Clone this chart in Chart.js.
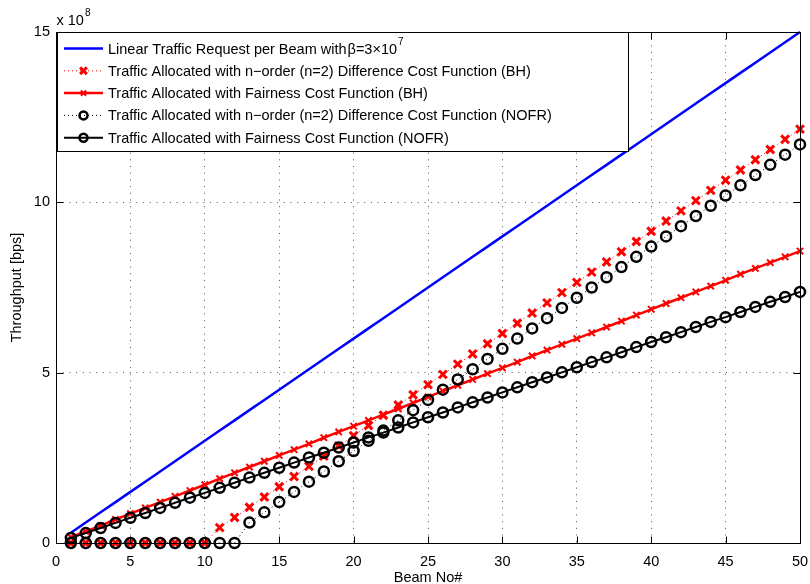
<!DOCTYPE html>
<html>
<head>
<meta charset="utf-8">
<title>Throughput per beam</title>
<script src="https://cdn.jsdelivr.net/npm/chart.js@4.4.1/dist/chart.umd.min.js"></script>
<style>
  html, body { margin: 0; padding: 0; background: #fff; }
  #wrap { width: 810px; height: 584px; }
</style>
</head>
<body>
<div id="wrap"><canvas id="chart" width="810" height="584"></canvas></div>
<script>
// beam index and throughput values, in units of 1e8 bps
const beams = [1,2,3,4,5,6,7,8,9,10,11,12,13,14,15,16,17,18,19,20,21,22,23,24,25,
  26,27,28,29,30,31,32,33,34,35,36,37,38,39,40,41,42,43,44,45,46,47,48,49,50];

const requestLinear = [0.3,0.6,0.9,1.2,1.5,1.8,2.1,2.4,2.7,3.0,3.3,3.6,3.9,4.2,4.5,
  4.8,5.1,5.4,5.7,6.0,6.3,6.6,6.9,7.2,7.5,7.8,8.1,8.4,8.7,9.0,9.3,9.6,9.9,10.2,10.5,
  10.8,11.1,11.4,11.7,12.0,12.3,12.6,12.9,13.2,13.5,13.8,14.1,14.4,14.7,15.0];

const allocDiffBH = [0,0,0,0,0,0,0,0,0,0,0.45,0.75,1.05,1.35,1.65,1.95,2.25,2.55,2.85,
  3.15,3.45,3.75,4.05,4.35,4.65,4.95,5.25,5.55,5.85,6.15,6.45,6.75,7.05,7.35,7.65,7.95,
  8.25,8.55,8.85,9.15,9.45,9.75,10.05,10.35,10.65,10.95,11.25,11.55,11.85,12.15];

const allocFairBH = [0.17,0.34,0.51,0.69,0.86,1.03,1.20,1.37,1.54,1.71,1.89,2.06,2.23,
  2.40,2.57,2.74,2.91,3.09,3.26,3.43,3.60,3.77,3.94,4.11,4.29,4.46,4.63,4.80,4.97,5.14,
  5.31,5.49,5.66,5.83,6.00,6.17,6.34,6.51,6.69,6.86,7.03,7.20,7.37,7.54,7.71,7.89,8.06,
  8.23,8.40,8.57];

const allocDiffNOFR = [0,0,0,0,0,0,0,0,0,0,0,0,0.6,0.9,1.2,1.5,1.8,2.1,2.4,2.7,3.0,3.3,
  3.6,3.9,4.2,4.5,4.8,5.1,5.4,5.7,6.0,6.3,6.6,6.9,7.2,7.5,7.8,8.1,8.4,8.7,9.0,9.3,9.6,
  9.9,10.2,10.5,10.8,11.1,11.4,11.7];

const allocFairNOFR = [0.15,0.29,0.44,0.59,0.74,0.88,1.03,1.18,1.33,1.47,1.62,1.77,1.92,
  2.06,2.21,2.36,2.51,2.65,2.80,2.95,3.10,3.24,3.39,3.54,3.69,3.83,3.98,4.13,4.27,4.42,
  4.57,4.72,4.86,5.01,5.16,5.31,5.45,5.60,5.75,5.90,6.04,6.19,6.34,6.49,6.63,6.78,6.93,
  7.08,7.22,7.37];

const xTicks = [0,5,10,15,20,25,30,35,40,45,50];
const yTicks = [0,5,10,15];
const yExponent = '8';

const seriesLabels = [
  'Linear Traffic Request per Beam with',
  'Traffic Allocated with n\u2212order (n=2) Difference Cost Function (BH)',
  'Traffic Allocated with Fairness Cost Function (BH)',
  'Traffic Allocated with n\u2212order (n=2) Difference Cost Function (NOFR)',
  'Traffic Allocated with Fairness Cost Function (NOFR)'
];
const betaText = '\u03B2=3\u00D710';
const betaExp = '7';

const FONT = "'Liberation Sans', Arial, Helvetica, sans-serif";
const FS = 14.5;
const pts = (ys) => beams.map((b, i) => ({ x: b, y: ys[i] }));

const datasets = [
  { label: seriesLabels[0], data: pts(requestLinear), borderColor: '#0000ff',
    borderWidth: 2.5, pointRadius: 0, order: 5 },
  { label: seriesLabels[1], data: pts(allocDiffBH), borderColor: '#ff0000',
    borderWidth: 1, borderDash: [1, 3], pointStyle: 'crossRot', pointRadius: 5.5,
    pointBorderWidth: 3, pointBorderColor: '#ff0000', order: 4 },
  { label: seriesLabels[2], data: pts(allocFairBH), borderColor: '#ff0000',
    borderWidth: 2.5, pointStyle: 'crossRot', pointRadius: 4.5,
    pointBorderWidth: 2, pointBorderColor: '#ff0000', order: 3 },
  { label: seriesLabels[3], data: pts(allocDiffNOFR), borderColor: '#000000',
    borderWidth: 1, borderDash: [1, 3], pointStyle: 'circle', pointRadius: 5,
    pointBorderWidth: 2.5, pointBorderColor: '#000000', pointBackgroundColor: 'rgba(0,0,0,0)', order: 2 },
  { label: seriesLabels[4], data: pts(allocFairNOFR), borderColor: '#000000',
    borderWidth: 2, pointStyle: 'circle', pointRadius: 5,
    pointBorderWidth: 2.5, pointBorderColor: '#000000', pointBackgroundColor: 'rgba(0,0,0,0)', order: 1 }
];
datasets.forEach(d => { d.fill = false; d.tension = 0; d.clip = false; d.backgroundColor = d.pointBackgroundColor || d.borderColor; });

// frame, inward tick marks, exponent label and the boxed legend
const decorations = {
  id: 'decorations',
  afterDraw(chart) {
    const ctx = chart.ctx, a = chart.chartArea;
    const xs = chart.scales.x, ys = chart.scales.y;
    const L = Math.round(a.left) + 0.5, R = Math.round(a.right) + 0.5;
    const T = Math.round(a.top) + 0.5, B = Math.round(a.bottom) + 0.5;
    ctx.save();
    ctx.strokeStyle = '#000'; ctx.lineWidth = 1; ctx.setLineDash([]);
    ctx.strokeRect(L, T, R - L, B - T);
    const tl = 7;
    ctx.beginPath();
    xTicks.forEach(v => {
      const px = Math.round(xs.getPixelForValue(v)) + 0.5;
      ctx.moveTo(px, B); ctx.lineTo(px, B - tl);
      ctx.moveTo(px, T); ctx.lineTo(px, T + tl);
    });
    yTicks.forEach(v => {
      const py = Math.round(ys.getPixelForValue(v)) + 0.5;
      ctx.moveTo(L, py); ctx.lineTo(L + tl, py);
      ctx.moveTo(R, py); ctx.lineTo(R - tl, py);
    });
    ctx.stroke();

    // exponent above the y axis
    ctx.fillStyle = '#000';
    ctx.textBaseline = 'alphabetic'; ctx.textAlign = 'left';
    ctx.font = FS + 'px ' + FONT;
    ctx.fillText('x 10', L, 25);
    const ew = ctx.measureText('x 10').width;
    ctx.font = '10px ' + FONT;
    ctx.fillText(yExponent, L + ew + 1, 16);

    // legend box
    const bx = L + 1, by = T, bw = 571, bh = 119;
    ctx.fillStyle = '#fff';
    ctx.fillRect(bx, by, bw, bh);
    ctx.strokeStyle = '#000';
    ctx.strokeRect(bx, by, bw, bh);
    const lx0 = 64, lx1 = 103, tx = 108;
    chart.data.datasets.forEach((d, i) => {
      const y = 48.5 + i * 22.3;
      ctx.save();
      ctx.strokeStyle = d.borderColor;
      ctx.lineWidth = d.borderWidth;
      ctx.setLineDash(d.borderDash || []);
      ctx.beginPath(); ctx.moveTo(lx0, y); ctx.lineTo(lx1, y); ctx.stroke();
      ctx.setLineDash([]);
      if (d.pointRadius > 0) {
        const cx = (lx0 + lx1) / 2;
        ctx.lineWidth = d.pointBorderWidth;
        ctx.strokeStyle = d.pointBorderColor;
        ctx.beginPath();
        if (d.pointStyle === 'circle') {
          ctx.arc(cx, y, d.pointRadius - 1, 0, Math.PI * 2);
        } else {
          const r = (d.pointRadius - 1) * 0.75;
          ctx.moveTo(cx - r, y - r); ctx.lineTo(cx + r, y + r);
          ctx.moveTo(cx - r, y + r); ctx.lineTo(cx + r, y - r);
        }
        ctx.stroke();
      }
      ctx.restore();
      ctx.fillStyle = '#000';
      ctx.font = FS + 'px ' + FONT;
      ctx.textBaseline = 'middle';
      ctx.fillText(d.label, tx, y + 1);
      if (i === 0) {
        let w = ctx.measureText(d.label).width + 1;
        ctx.fillText(betaText, tx + w, y + 1);
        w += ctx.measureText(betaText).width;
        ctx.font = '10px ' + FONT;
        ctx.fillText(betaExp, tx + w + 1, y - 6);
      }
    });
    ctx.restore();
  }
};

new Chart(document.getElementById('chart'), {
  type: 'line',
  data: { datasets },
  options: {
    responsive: false,
    animation: false,
    layout: { padding: { top: 32, right: 10, left: 0, bottom: 0 } },
    plugins: { legend: { display: false }, tooltip: { enabled: false } },
    scales: {
      x: {
        type: 'linear', min: 0, max: 50,
        afterBuildTicks: s => { s.ticks = xTicks.map(v => ({ value: v })); },
        afterFit: s => { s.height = 41; s.paddingLeft = 0; s.paddingRight = 0; },
        ticks: { color: '#000', font: { family: FONT, size: FS }, padding: 10, maxRotation: 0 },
        grid: { color: '#555', lineWidth: 1, drawTicks: false, drawOnChartArea: true },
        border: { display: false, dash: [1, 5.7] },
        title: { display: true, text: 'Beam No#', color: '#000', font: { family: FONT, size: FS },
          padding: { top: 0, bottom: -3 } }
      },
      y: {
        type: 'linear', min: 0, max: 15,
        afterBuildTicks: s => { s.ticks = yTicks.map(v => ({ value: v })); },
        afterFit: s => { s.width = 56; s.paddingTop = 0; s.paddingBottom = 0; },
        ticks: { color: '#000', font: { family: FONT, size: FS }, padding: 6 },
        grid: { color: '#555', lineWidth: 1, drawTicks: false },
        border: { display: false, dash: [1, 5.7] },
        title: { display: true, text: 'Throughput [bps]', color: '#000', font: { family: FONT, size: FS },
          padding: { top: 8, bottom: 0 } }
      }
    }
  },
  plugins: [decorations]
});
</script>
</body>
</html>
